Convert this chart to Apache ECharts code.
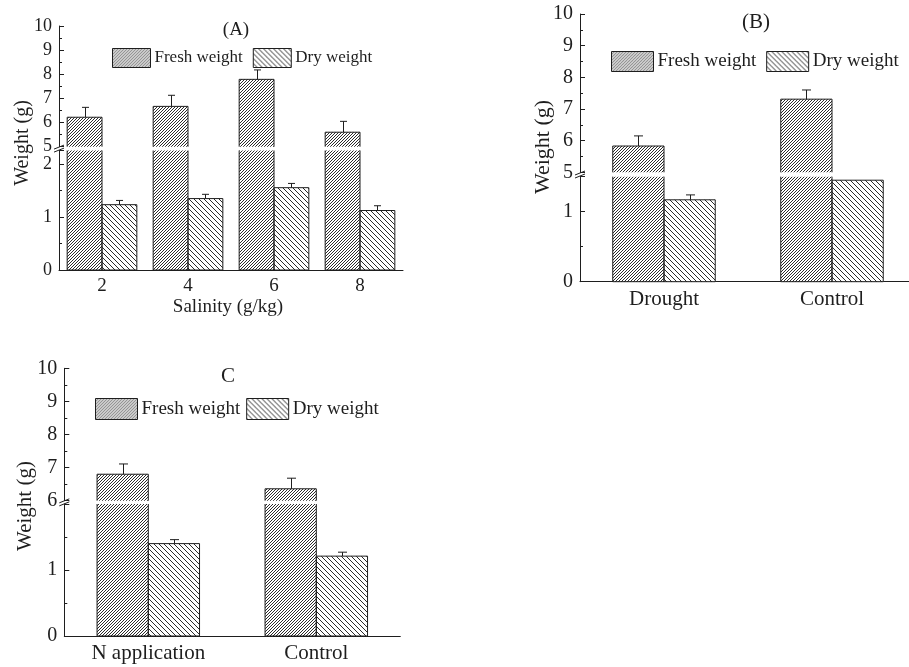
<!DOCTYPE html>
<html>
<head>
<meta charset="utf-8">
<script src="https://cdn.jsdelivr.net/npm/echarts@6/dist/echarts.min.js"></script>
<style>html,body{margin:0;padding:0;background:#fff}#c{width:909px;height:667px}</style>
</head>
<body>
<div id="c"></div>
<script>
// ---- data ----
const seriesNames = ['Fresh weight', 'Dry weight'];

const aCategories = ['2', '4', '6', '8'];
const aFresh = [6.22, 6.67, 7.79, 5.60];
const aFreshErr = [0.41, 0.46, 0.39, 0.45];
const aDry = [1.23, 1.345, 1.55, 1.12];
const aDryErr = [0.08, 0.08, 0.08, 0.09];

const bCategories = ['Drought', 'Control'];
const bFresh = [5.83, 7.31];
const bFreshErr = [0.32, 0.29];
const bDry = [1.17, 1.45];
const bDryErr = [0.07, 0];

const cCategories = ['N application', 'Control'];
const cFresh = [6.80, 6.36];
const cFreshErr = [0.31, 0.32];
const cDry = [1.40, 1.21];
const cDryErr = [0.06, 0.06];

// axis ranges (upper / lower part of the broken axis)
const aUpperRange = [5, 10], aLowerRange = [0, 2.25];
const bUpperRange = [5, 10], bLowerRange = [0, 1.5];
const cUpperRange = [6, 10], cLowerRange = [0, 2];

const titles = ['(A)', '(B)', 'C'];
const yName = 'Weight (g)';
const aXName = 'Salinity (g/kg)';

// ---- patterns ----
function hatch(size, dir) {
  const cv = document.createElement('canvas');
  cv.width = size; cv.height = size;
  const g = cv.getContext('2d');
  g.fillStyle = '#fff'; g.fillRect(0, 0, size, size);
  g.fillStyle = '#2b2b2b';
  for (let x = 0; x < size; x++) {
    const y = dir > 0 ? size - 1 - x : x;
    g.fillRect(x, y, 1, 1);
  }
  return { image: cv, repeat: 'repeat' };
}
const freshPat = hatch(3, 1);
const dryPat = hatch(5, -1);

const FONT = 'Liberation Serif';
const INK = '#1e1e1e';

const panels = [
  { cats: aCategories, fresh: aFresh, fErr: aFreshErr, dry: aDry, dErr: aDryErr,
    up: aUpperRange, low: aLowerRange,
    L: { left: 59, width: 344, upTop: 26, upBot: 146.7, lowTop: 150.5, lowBot: 270 },
    gap: 0.19, cap: 3.5, fs: 18, xfs: 19, legend: { left: 112, top: 48, w: 38, h: 19, gap: 10, fs: 17 },
    title: { x: 236, y: 30, fs: 19 }, yname: { x: 23, y: 143, fs: 20 }, xname: { text: aXName, x: 228, y: 307, fs: 19 } },
  { cats: bCategories, fresh: bFresh, fErr: bFreshErr, dry: bDry, dErr: bDryErr,
    up: bUpperRange, low: bLowerRange,
    L: { left: 580, width: 336, upTop: 14, upBot: 172.3, lowTop: 176.7, lowBot: 281.7 },
    gap: 0.39, cap: 4.5, fs: 20, xfs: 21, legend: { left: 611, top: 51, w: 42, h: 20, gap: 10, fs: 19 },
    title: { x: 756, y: 22, fs: 21 }, yname: { x: 543, y: 147, fs: 22 } },
  { cats: cCategories, fresh: cFresh, fErr: cFreshErr, dry: cDry, dErr: cDryErr,
    up: cUpperRange, low: cLowerRange,
    L: { left: 64.3, width: 336, upTop: 368.3, upBot: 500.7, lowTop: 504, lowBot: 636 },
    gap: 0.39, cap: 4.5, fs: 20, xfs: 21, legend: { left: 95, top: 398, w: 42, h: 21, gap: 6, fs: 19 },
    title: { x: 228, y: 376, fs: 21 }, yname: { x: 25, y: 506, fs: 21 } }
];

const grid = [], xAxis = [], yAxis = [], series = [], legend = [], graphic = [];
const ST = { stroke: INK, lineWidth: 1, fill: null };

function barX(api, idx, sign, gapFrac) {
  const cw = api.size([1, 0])[0];
  const bw = cw * (1 - gapFrac) / 2;
  const c = api.coord([idx, 0])[0];
  return sign < 0 ? [c - bw, c] : [c, c + bw];
}

function errRender(sign, gapFrac, cap) {
  return function (params, api) {
    const idx = api.value(0), v = api.value(1), e = api.value(2);
    if (!e) return null;
    const xs = barX(api, idx, sign, gapFrac);
    const p0 = api.coord([idx, v]);
    const p1 = api.coord([idx, v + e]);
    const cx = Math.round((xs[0] + xs[1]) / 2) + 0.5;
    return { type: 'group', children: [
      { type: 'line', shape: { x1: cx, y1: p0[1], x2: cx, y2: p1[1] }, style: ST },
      { type: 'line', shape: { x1: cx - cap, y1: p1[1], x2: cx + cap, y2: p1[1] }, style: ST }
    ] };
  };
}

// outline of a bar, leaving the broken side open
function outlineRender(sign, gapFrac, range, isUpper) {
  return function (params, api) {
    const idx = api.value(0), v = api.value(1);
    if (isUpper && v <= range[0]) return null;
    const xs = barX(api, idx, sign, gapFrac);
    const yb = api.coord([idx, range[0]])[1];
    const clipped = v > range[1];
    const yt = api.coord([idx, Math.min(v, range[1])])[1];
    let pts;
    if (isUpper) pts = [[xs[0], yb], [xs[0], yt], [xs[1], yt], [xs[1], yb]];
    else if (clipped) pts = [[xs[0], yt], [xs[0], yb], [xs[1], yb], [xs[1], yt]];
    else pts = [[xs[0], yt], [xs[0], yb], [xs[1], yb], [xs[1], yt], [xs[0], yt]];
    return { type: 'polyline', shape: { points: pts }, style: ST };
  };
}

panels.forEach((p, i) => {
  const L = p.L;
  const gu = grid.length;
  grid.push({ left: L.left, top: L.upTop, width: L.width, height: L.upBot - L.upTop, outerBoundsMode: 'none' });
  grid.push({ left: L.left, top: L.lowTop, width: L.width, height: L.lowBot - L.lowTop, outerBoundsMode: 'none' });
  const gl = gu + 1;
  xAxis.push({ type: 'category', gridIndex: gu, data: p.cats, show: false });
  xAxis.push({ type: 'category', gridIndex: gl, data: p.cats,
    axisLine: { lineStyle: { color: INK, width: 1 } },
    axisTick: { alignWithLabel: true, inside: false, length: 4, lineStyle: { color: INK } },
    axisLabel: { color: INK, fontFamily: FONT, fontSize: p.xfs, margin: 7 } });
  const yCommon = {
    type: 'value', interval: 1, splitLine: { show: false },
    axisLine: { show: true, lineStyle: { color: INK, width: 1 } },
    axisTick: { show: true, inside: true, length: 5, lineStyle: { color: INK } },
    minorTick: { show: true, splitNumber: 2, length: 3, lineStyle: { color: INK } },
    axisLabel: { color: INK, fontFamily: FONT, fontSize: p.fs, margin: 7 }
  };
  yAxis.push(Object.assign({}, yCommon, { gridIndex: gu, min: p.up[0], max: p.up[1] }));
  yAxis.push(Object.assign({}, yCommon, { gridIndex: gl, min: p.low[0], max: p.low[1],
    axisLabel: Object.assign({}, yCommon.axisLabel, { showMaxLabel: false }) }));
  const xu = gu, xl = gl, yu = gu, yl = gl;
  const barBase = { type: 'bar', barGap: 0, barCategoryGap: (p.gap * 100) + '%', clip: true,
    emphasis: { disabled: true } };
  const fStyle = { color: freshPat, borderWidth: 0 };
  const dStyle = { color: dryPat, borderWidth: 0 };
  const above = arr => arr.map(v => (v > p.up[0] ? v : '-'));
  series.push(Object.assign({}, barBase, { name: seriesNames[0], xAxisIndex: xu, yAxisIndex: yu, data: above(p.fresh), itemStyle: fStyle }));
  series.push(Object.assign({}, barBase, { name: seriesNames[1], xAxisIndex: xu, yAxisIndex: yu, data: above(p.dry), itemStyle: dStyle }));
  series.push(Object.assign({}, barBase, { name: seriesNames[0], xAxisIndex: xl, yAxisIndex: yl, data: p.fresh, itemStyle: fStyle }));
  series.push(Object.assign({}, barBase, { name: seriesNames[1], xAxisIndex: xl, yAxisIndex: yl, data: p.dry, itemStyle: dStyle }));
  const idxData = arr => arr.map((v, k) => [k, v]);
  series.push({ type: 'custom', name: 'outFU' + i, xAxisIndex: xu, yAxisIndex: yu, z: 4,
    renderItem: outlineRender(-1, p.gap, p.up, true), data: idxData(p.fresh) });
  series.push({ type: 'custom', name: 'outFL' + i, xAxisIndex: xl, yAxisIndex: yl, z: 4,
    renderItem: outlineRender(-1, p.gap, p.low, false), data: idxData(p.fresh) });
  series.push({ type: 'custom', name: 'outDL' + i, xAxisIndex: xl, yAxisIndex: yl, z: 4,
    renderItem: outlineRender(1, p.gap, p.low, false), data: idxData(p.dry) });
  series.push({ type: 'custom', name: 'errF' + i, xAxisIndex: xu, yAxisIndex: yu, z: 5,
    renderItem: errRender(-1, p.gap, p.cap), data: p.fresh.map((v, k) => [k, v, p.fErr[k]]) });
  series.push({ type: 'custom', name: 'errD' + i, xAxisIndex: xl, yAxisIndex: yl, z: 5,
    renderItem: errRender(1, p.gap, p.cap), data: p.dry.map((v, k) => [k, v, p.dErr[k]]) });

  legend.push({ data: seriesNames, left: p.legend.left, top: p.legend.top, padding: 0,
    itemWidth: p.legend.w, itemHeight: p.legend.h, itemGap: p.legend.gap, icon: 'rect',
    selectedMode: false, itemStyle: { borderColor: INK, borderWidth: 1 },
    textStyle: { color: INK, fontFamily: FONT, fontSize: p.legend.fs, padding: [0, 0, 0, -1] } });

  graphic.push({ type: 'text', x: p.title.x, y: p.title.y,
    style: { text: titles[i], fill: INK, font: p.title.fs + 'px "' + FONT + '"', align: 'center', verticalAlign: 'middle' } });
  graphic.push({ type: 'text', x: p.yname.x, y: p.yname.y, rotation: Math.PI / 2,
    style: { text: yName, fill: INK, font: p.yname.fs + 'px "' + FONT + '"', align: 'center', verticalAlign: 'middle' } });
  if (p.xname) {
    graphic.push({ type: 'text', x: p.xname.x, y: p.xname.y,
      style: { text: p.xname.text, fill: INK, font: p.xname.fs + 'px "' + FONT + '"', align: 'center', verticalAlign: 'middle' } });
  }
  // axis break marks
  const c = (L.upBot + L.lowTop) / 2, ax = L.left;
  const bs = { stroke: INK, lineWidth: 1 };
  graphic.push({ type: 'line', shape: { x1: ax - 5, y1: c + 0.5, x2: ax + 5, y2: c - 3.5 }, style: bs });
  graphic.push({ type: 'line', shape: { x1: ax - 5, y1: c + 3.5, x2: ax + 5, y2: c - 0.5 }, style: bs });
});

const chart = echarts.init(document.getElementById('c'), null, { renderer: 'canvas' });
chart.setOption({
  animation: false,
  backgroundColor: '#fff',
  grid, xAxis, yAxis, series, legend, graphic
});
</script>
</body>
</html>
